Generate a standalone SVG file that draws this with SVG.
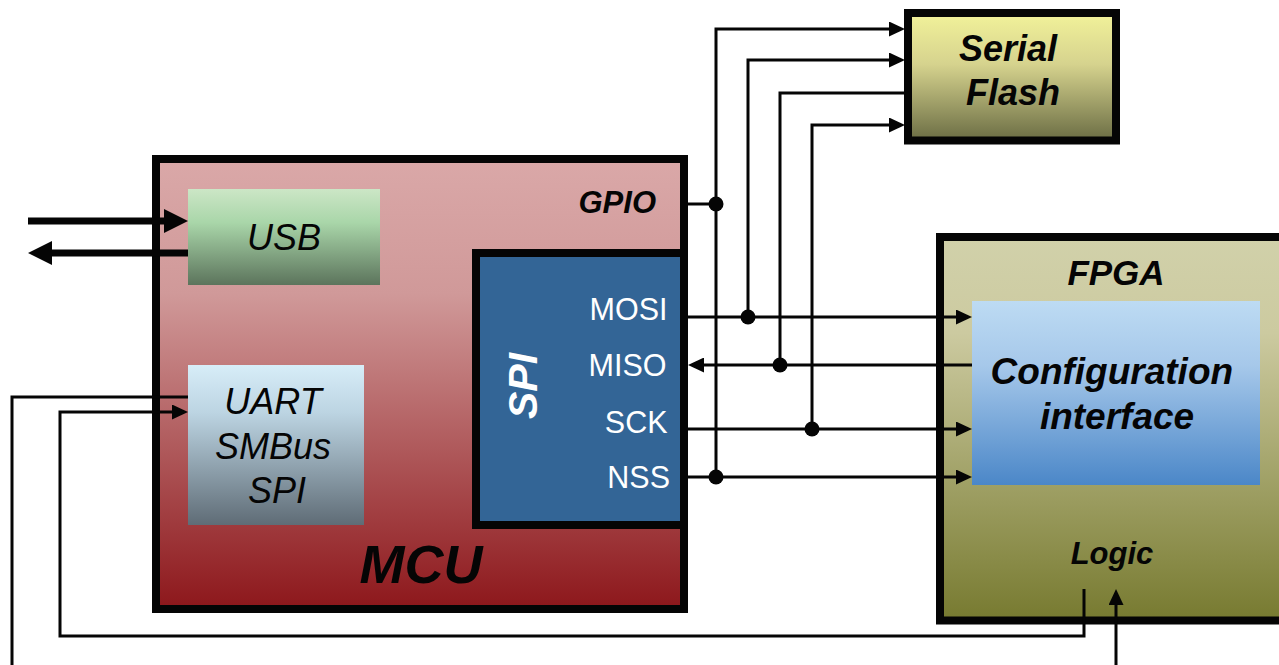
<svg xmlns="http://www.w3.org/2000/svg" width="1279" height="665" viewBox="0 0 1279 665">
  <defs>
    <linearGradient id="gMcu" x1="0" y1="0" x2="0" y2="1">
      <stop offset="0" stop-color="#daa8a8"/>
      <stop offset="0.3" stop-color="#d09999"/>
      <stop offset="1" stop-color="#8d171b"/>
    </linearGradient>
    <linearGradient id="gUsb" x1="0" y1="0" x2="0" y2="1">
      <stop offset="0" stop-color="#cce6c6"/>
      <stop offset="0.35" stop-color="#a9d6a9"/>
      <stop offset="1" stop-color="#5c745c"/>
    </linearGradient>
    <linearGradient id="gUart" x1="0" y1="0" x2="0" y2="1">
      <stop offset="0" stop-color="#d7edf8"/>
      <stop offset="0.3" stop-color="#bcd4e2"/>
      <stop offset="1" stop-color="#5f6c76"/>
    </linearGradient>
    <linearGradient id="gFlash" x1="0" y1="0" x2="0" y2="1">
      <stop offset="0" stop-color="#f2f29a"/>
      <stop offset="0.4" stop-color="#d6d38e"/>
      <stop offset="1" stop-color="#6b6d44"/>
    </linearGradient>
    <linearGradient id="gFpga" x1="0" y1="0" x2="0" y2="1">
      <stop offset="0" stop-color="#d1d1aa"/>
      <stop offset="0.25" stop-color="#cccaa0"/>
      <stop offset="1" stop-color="#777a30"/>
    </linearGradient>
    <linearGradient id="gCfg" x1="0" y1="0" x2="0" y2="1">
      <stop offset="0" stop-color="#bddbf3"/>
      <stop offset="0.35" stop-color="#a6c8ea"/>
      <stop offset="1" stop-color="#4b87c8"/>
    </linearGradient>
    <marker id="arr" markerUnits="userSpaceOnUse" markerWidth="16" markerHeight="15" refX="8" refY="7.5" orient="auto">
      <path d="M0,0 L16,7.5 L0,15 Z" fill="#050505"/>
    </marker>
    <marker id="arrBig" markerUnits="userSpaceOnUse" markerWidth="24" markerHeight="24" refX="12" refY="12" orient="auto">
      <path d="M0,0 L24,12 L0,24 Z" fill="#050505"/>
    </marker>
  </defs>
  <style>
    .box { stroke: #050505; stroke-width: 8; }
    .wire { fill: none; stroke: #050505; stroke-width: 3; }
    .thick { fill: none; stroke: #050505; stroke-width: 7; }
    .dot { fill: #050505; }
    .t { font-family: "Liberation Sans", Arial, sans-serif; fill: #050505; }
    .bi { font-weight: bold; font-style: italic; }
    .it { font-style: italic; }
    .w { fill: #ffffff; }
  </style>

  <rect width="1279" height="665" fill="#ffffff"/>

  <!-- MCU with its peripherals -->
  <g id="mcu">
    <rect class="box" x="156" y="159" width="528" height="450" fill="url(#gMcu)"/>
    <text class="t bi" x="656" y="213" font-size="31" text-anchor="end">GPIO</text>
    <text class="t bi" x="421" y="583" font-size="54" text-anchor="middle">MCU</text>
  </g>

  <g id="usb">
    <rect x="188" y="189" width="192" height="96" fill="url(#gUsb)"/>
    <text class="t it" x="284" y="250" font-size="36" text-anchor="middle">USB</text>
  </g>

  <g id="uart">
    <rect x="188" y="365" width="176" height="160" fill="url(#gUart)"/>
    <text class="t it" font-size="36" text-anchor="middle">
      <tspan x="278" y="414">UART</tspan>
      <tspan x="278" y="459">SMBus</tspan>
      <tspan x="277" y="503">SPI</tspan>
    </text>
  </g>

  <g id="spi">
    <rect class="box" x="476" y="253" width="208" height="272" fill="#336596"/>
    <text class="t bi w" x="0" y="0" font-size="41" text-anchor="middle" transform="translate(537 386) rotate(-90)">SPI</text>
    <text class="t w" font-size="30.5" text-anchor="end">
      <tspan x="676" y="320">MOSI</tspan>
      <tspan x="675" y="376">MISO</tspan>
      <tspan x="676" y="433">SCK</tspan>
      <tspan x="670" y="488">NSS</tspan>
    </text>
  </g>

  <!-- Serial flash -->
  <g id="flash">
    <rect class="box" x="908" y="13" width="208" height="127.5" fill="url(#gFlash)"/>
    <text class="t bi" font-size="36" text-anchor="middle">
      <tspan x="1013" y="61">Serial</tspan>
      <tspan x="1013" y="105">Flash</tspan>
    </text>
  </g>

  <!-- FPGA -->
  <g id="fpga">
    <rect class="box" x="940" y="237" width="400" height="383.5" fill="url(#gFpga)"/>
    <text class="t bi" x="1116" y="285" font-size="35" text-anchor="middle">FPGA</text>
    <text class="t bi" x="1112" y="564" font-size="31" text-anchor="middle">Logic</text>
  </g>

  <g id="config">
    <rect x="972" y="301" width="288" height="184" fill="url(#gCfg)"/>
    <text class="t bi" font-size="37" text-anchor="middle">
      <tspan x="1117" y="384">Configuration</tspan>
      <tspan x="1117" y="429">interface</tspan>
    </text>
  </g>

  <!-- Connectors -->
  <g id="connectors">
    <!-- USB -->
    <path class="thick" d="M28,221 H176" marker-end="url(#arrBig)"/>
    <path class="thick" d="M188,253 H40" marker-end="url(#arrBig)"/>

    <!-- GPIO stub -->
    <path class="wire" d="M688,204 H716"/>

    <!-- flash taps -->
    <path class="wire" d="M716,477 V29 H897" marker-end="url(#arr)"/>
    <path class="wire" d="M748,317 V60 H897" marker-end="url(#arr)"/>
    <path class="wire" d="M780,365 V93 H905"/>
    <path class="wire" d="M812,429 V125 H897" marker-end="url(#arr)"/>

    <!-- SPI bus to FPGA -->
    <path class="wire" d="M688,317 H964" marker-end="url(#arr)"/>
    <path class="wire" d="M972,365 H696" marker-end="url(#arr)"/>
    <path class="wire" d="M688,429 H964" marker-end="url(#arr)"/>
    <path class="wire" d="M688,477 H964" marker-end="url(#arr)"/>

    <circle class="dot" cx="716" cy="204" r="7.5"/>
    <circle class="dot" cx="748" cy="317" r="7.5"/>
    <circle class="dot" cx="780" cy="365" r="7.5"/>
    <circle class="dot" cx="812" cy="429" r="7.5"/>
    <circle class="dot" cx="716" cy="477" r="7.5"/>

    <!-- UART / logic links -->
    <path class="wire" d="M188,397 H12 V665"/>
    <path class="wire" d="M1084,589 V636 H60 V412 H180" marker-end="url(#arr)"/>
    <path class="wire" d="M1116,665 V597" marker-end="url(#arr)"/>
  </g>
</svg>
